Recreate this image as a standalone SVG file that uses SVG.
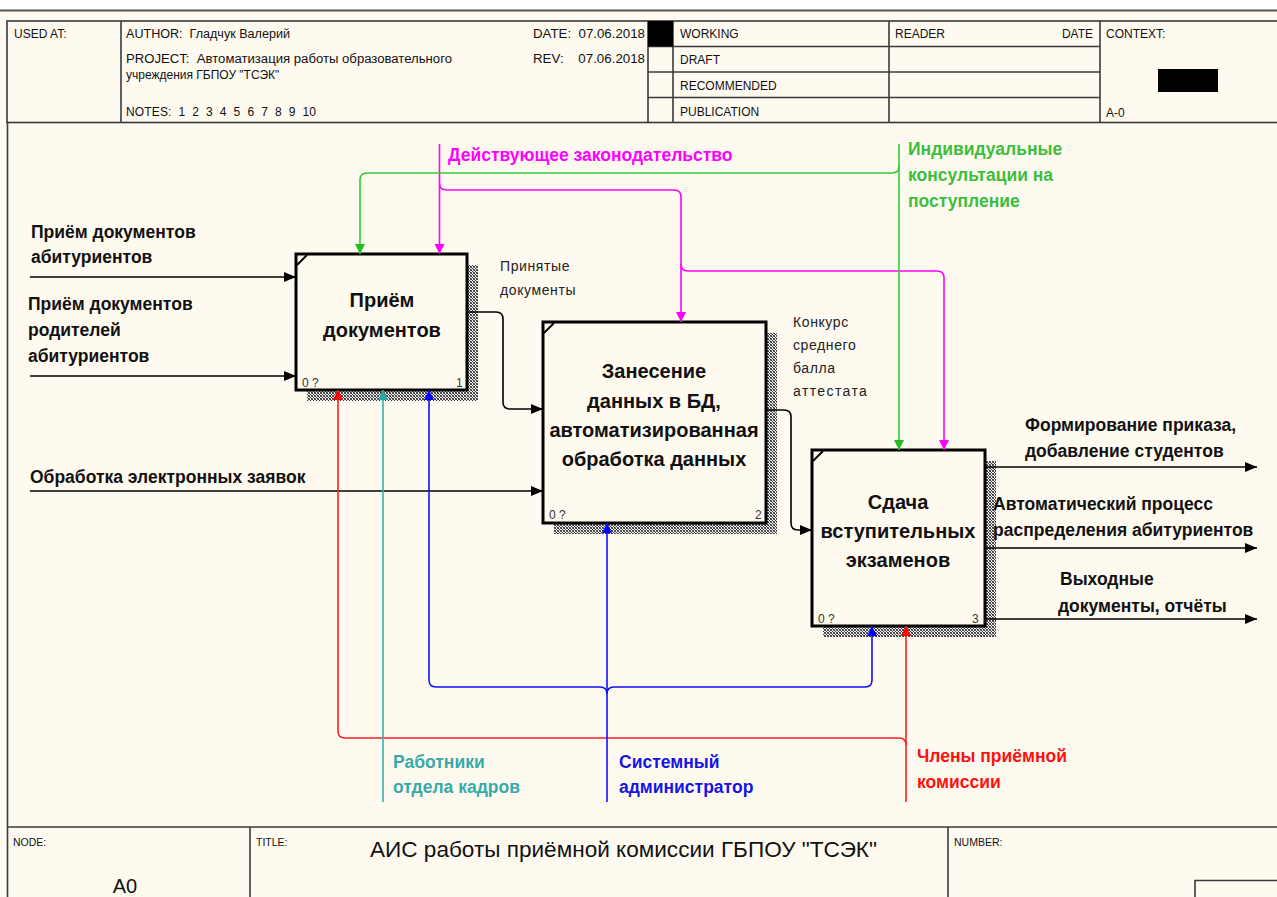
<svg xmlns="http://www.w3.org/2000/svg" width="1277" height="897" viewBox="0 0 1277 897">
  <defs>
    <style>
      .frame { fill: none; stroke: #3a3a3a; stroke-width: 1.6; }
      .hdr { font-family: "Liberation Sans", Arial, sans-serif; font-size: 12px; fill: #111; white-space: pre; }
      .hdr-s { font-family: "Liberation Sans", Arial, sans-serif; font-size: 10.5px; fill: #111; }
      .box { fill: #FFFAF0; stroke: #000; stroke-width: 3; }
      .shadow { fill: url(#hatch); }
      .btitle { font-family: "Liberation Sans", Arial, sans-serif; font-weight: bold; font-size: 20px; fill: #111; text-anchor: middle; }
      .bnum { font-family: "Liberation Sans", Arial, sans-serif; font-size: 12px; fill: #333; }
      .lbl { font-family: "Liberation Sans", Arial, sans-serif; font-weight: bold; font-size: 17.5px; fill: #111; }
      .lbl-r { font-family: "Liberation Sans", Arial, sans-serif; font-size: 14px; fill: #222; letter-spacing: 0.6px; }
      .k { fill: none; stroke: #000; stroke-width: 1.6; }
      .mag { fill: none; stroke: #FF00FF; stroke-width: 1.6; }
      .grn { fill: none; stroke: #33CC33; stroke-width: 1.6; }
      .red { fill: none; stroke: #FF2020; stroke-width: 1.6; }
      .teal { fill: none; stroke: #3AB0B0; stroke-width: 1.6; }
      .blu { fill: none; stroke: #1010FF; stroke-width: 1.6; }
    </style>
    <pattern id="hatch" width="3" height="3" patternUnits="userSpaceOnUse">
      <rect width="3" height="3" fill="#f2f2f2"/>
      <rect x="0" y="0" width="1" height="1" fill="#333"/>
      <rect x="1" y="1" width="1" height="1" fill="#333"/>
      <rect x="2" y="2" width="1" height="1" fill="#333"/>
      <rect x="2" y="0" width="1" height="1" fill="#666"/>
      <rect x="0" y="2" width="1" height="1" fill="#666"/>
    </pattern>
    <marker id="ah-k" viewBox="0 0 12 10" refX="12" refY="5" markerWidth="12" markerHeight="10" orient="auto" markerUnits="userSpaceOnUse">
      <path d="M0,0 L12,5 L0,10 z" fill="#000"/>
    </marker>
    <marker id="ah-mag" viewBox="0 0 10 10" refX="10" refY="5" markerWidth="11" markerHeight="10" orient="auto" markerUnits="userSpaceOnUse">
      <path d="M0,0 L10,5 L0,10 z" fill="#FF00FF"/>
    </marker>
    <marker id="ah-grn" viewBox="0 0 10 10" refX="10" refY="5" markerWidth="11" markerHeight="10" orient="auto" markerUnits="userSpaceOnUse">
      <path d="M0,0 L10,5 L0,10 z" fill="#22BB22"/>
    </marker>
    <marker id="ah-red" viewBox="0 0 10 10" refX="10" refY="5" markerWidth="11" markerHeight="10" orient="auto" markerUnits="userSpaceOnUse">
      <path d="M0,0 L10,5 L0,10 z" fill="#FF0000"/>
    </marker>
    <marker id="ah-teal" viewBox="0 0 10 10" refX="10" refY="5" markerWidth="11" markerHeight="10" orient="auto" markerUnits="userSpaceOnUse">
      <path d="M0,0 L10,5 L0,10 z" fill="#2AA8A8"/>
    </marker>
    <marker id="ah-blu" viewBox="0 0 10 10" refX="10" refY="5" markerWidth="11" markerHeight="10" orient="auto" markerUnits="userSpaceOnUse">
      <path d="M0,0 L10,5 L0,10 z" fill="#0000FF"/>
    </marker>
  </defs>

  <!-- page background -->
  <rect x="0" y="0" width="1277" height="897" fill="#FFFAF0"/>
  <rect x="0" y="0" width="1277" height="10" fill="#FFFFFF"/>
  <line x1="0" y1="10.5" x2="1277" y2="10.5" stroke="#555" stroke-width="2.2"/>

  <!-- header block -->
  <g id="header">
    <rect class="frame" x="7" y="21" width="1275" height="101.5"/>
    <line class="frame" x1="121" y1="21" x2="121" y2="122.5"/>
    <line class="frame" x1="648" y1="21" x2="648" y2="122.5"/>
    <line class="frame" x1="673" y1="21" x2="673" y2="122.5"/>
    <line class="frame" x1="889" y1="21" x2="889" y2="122.5"/>
    <line class="frame" x1="1100" y1="21" x2="1100" y2="122.5"/>
    <line class="frame" x1="648" y1="46.5" x2="1100" y2="46.5"/>
    <line class="frame" x1="648" y1="72" x2="1100" y2="72"/>
    <line class="frame" x1="648" y1="97.5" x2="1100" y2="97.5"/>
    <rect x="648" y="21" width="25" height="25.5" fill="#000"/>
    <text class="hdr" x="14" y="38">USED AT:</text>
    <text class="hdr" x="126" y="38" textLength="164" lengthAdjust="spacingAndGlyphs">AUTHOR:  Гладчук Валерий</text>
    <text class="hdr" x="126" y="63" textLength="326" lengthAdjust="spacingAndGlyphs">PROJECT:  Автоматизация работы образовательного</text>
    <text class="hdr" x="126" y="79">учреждения ГБПОУ "ТСЭК"</text>
    <text class="hdr" x="126" y="116" textLength="190" lengthAdjust="spacing">NOTES:  1  2  3  4  5  6  7  8  9  10</text>
    <text class="hdr" x="533" y="38" textLength="112" lengthAdjust="spacingAndGlyphs">DATE:  07.06.2018</text>
    <text class="hdr" x="533" y="63" textLength="112" lengthAdjust="spacingAndGlyphs">REV:    07.06.2018</text>
    <text class="hdr" x="680" y="38">WORKING</text>
    <text class="hdr" x="680" y="64">DRAFT</text>
    <text class="hdr" x="680" y="90">RECOMMENDED</text>
    <text class="hdr" x="680" y="116">PUBLICATION</text>
    <text class="hdr" x="895" y="38">READER</text>
    <text class="hdr" x="1093" y="38" text-anchor="end">DATE</text>
    <text class="hdr" x="1106" y="38">CONTEXT:</text>
    <rect x="1158" y="69" width="60" height="23" fill="#000"/>
    <text class="hdr" x="1106" y="117">A-0</text>
  </g>

  <!-- drawing area border -->
  <line class="frame" x1="7.5" y1="122" x2="7.5" y2="897"/>

  <!-- footer block -->
  <g id="footer">
    <line class="frame" x1="7" y1="827" x2="1277" y2="827"/>
    <line class="frame" x1="250" y1="827" x2="250" y2="897"/>
    <line class="frame" x1="948" y1="827" x2="948" y2="897"/>
    <polyline class="frame" points="1195,897 1195,880.5 1277,880.5"/>
    <text class="hdr-s" x="13" y="846">NODE:</text>
    <text class="hdr-s" x="256" y="846">TITLE:</text>
    <text class="hdr-s" x="954" y="846">NUMBER:</text>
    <text x="125" y="893" text-anchor="middle" font-family="Liberation Sans, Arial, sans-serif" font-size="20" fill="#111">A0</text>
    <text x="370" y="857" textLength="507" lengthAdjust="spacingAndGlyphs" font-family="Liberation Sans, Arial, sans-serif" font-size="22" fill="#111">АИС работы приёмной комиссии ГБПОУ "ТСЭК"</text>
  </g>

  <!-- activity 1 -->
  <g id="node-1">
    <rect class="shadow" x="307" y="265" width="171" height="136"/>
    <rect class="box" x="296" y="254" width="171" height="136"/>
    <line x1="297" y1="265" x2="307" y2="255" stroke="#000" stroke-width="2"/>
    <text class="btitle" x="382" y="307">Приём</text>
    <text class="btitle" x="382" y="337">документов</text>
    <text class="bnum" x="302" y="387">0 ?</text>
    <text class="bnum" x="456" y="387">1</text>
  </g>

  <!-- activity 2 -->
  <g id="node-2">
    <rect class="shadow" x="554" y="333" width="223" height="201"/>
    <rect class="box" x="543" y="322" width="223" height="201"/>
    <line x1="544" y1="333" x2="554" y2="323" stroke="#000" stroke-width="2"/>
    <text class="btitle" x="654" y="378">Занесение</text>
    <text class="btitle" x="654" y="408">данных в БД,</text>
    <text class="btitle" x="654" y="437">автоматизированная</text>
    <text class="btitle" x="654" y="466">обработка данных</text>
    <text class="bnum" x="549" y="519">0 ?</text>
    <text class="bnum" x="755" y="519">2</text>
  </g>

  <!-- activity 3 -->
  <g id="node-3">
    <rect class="shadow" x="823" y="461" width="173" height="176"/>
    <rect class="box" x="812" y="450" width="173" height="176"/>
    <line x1="813" y1="461" x2="823" y2="451" stroke="#000" stroke-width="2"/>
    <text class="btitle" x="898" y="509">Сдача</text>
    <text class="btitle" x="898" y="538">вступительных</text>
    <text class="btitle" x="898" y="567">экзаменов</text>
    <text class="bnum" x="818" y="623">0 ?</text>
    <text class="bnum" x="972" y="623">3</text>
  </g>

  <!-- connectors -->
  <g id="connectors">
    <!-- inputs -->
    <line class="k" x1="30" y1="277" x2="296" y2="277" marker-end="url(#ah-k)"/>
    <line class="k" x1="30" y1="376" x2="296" y2="376" marker-end="url(#ah-k)"/>
    <line class="k" x1="30" y1="491" x2="543" y2="491" marker-end="url(#ah-k)"/>
    <!-- box 1 -> box 2 -->
    <path class="k" d="M467,312 L496,312 Q503,312 503,319 L503,402 Q503,409 510,409 L543,409" marker-end="url(#ah-k)"/>
    <!-- box 2 -> box 3 -->
    <path class="k" d="M766,410 L784,410 Q791,410 791,417 L791,523 Q791,530 798,530 L812,530" marker-end="url(#ah-k)"/>
    <!-- outputs of box 3 -->
    <line class="k" x1="985" y1="467" x2="1257" y2="467" marker-end="url(#ah-k)"/>
    <line class="k" x1="985" y1="548" x2="1257" y2="548" marker-end="url(#ah-k)"/>
    <line class="k" x1="985" y1="619" x2="1257" y2="619" marker-end="url(#ah-k)"/>

    <!-- control: legislation -->
    <line class="mag" x1="439.5" y1="144" x2="439.5" y2="254" marker-end="url(#ah-mag)"/>
    <path class="mag" d="M439.5,183 Q439.5,190 446.5,190 L674,190 Q681,190 681,197 L681,322" marker-end="url(#ah-mag)"/>
    <path class="mag" d="M681,264 Q681,271 688,271 L937,271 Q944,271 944,278 L944,450" marker-end="url(#ah-mag)"/>

    <!-- control: consultations -->
    <line class="grn" x1="899" y1="144" x2="899" y2="450" marker-end="url(#ah-grn)"/>
    <path class="grn" d="M899,166 Q899,173 892,173 L367,173 Q360,173 360,180 L360,254" marker-end="url(#ah-grn)"/>

    <!-- mechanism: admission committee -->
    <line class="red" x1="906" y1="802" x2="906" y2="626" marker-end="url(#ah-red)"/>
    <path class="red" d="M906,745 Q906,738 899,738 L345,738 Q338,738 338,731 L338,390" marker-end="url(#ah-red)"/>

    <!-- mechanism: HR staff -->
    <line class="teal" x1="383" y1="802" x2="383" y2="390" marker-end="url(#ah-teal)"/>

    <!-- mechanism: system administrator -->
    <line class="blu" x1="607" y1="802" x2="607" y2="523" marker-end="url(#ah-blu)"/>
    <path class="blu" d="M607,694 Q607,687 600,687 L436,687 Q429,687 429,680 L429,390" marker-end="url(#ah-blu)"/>
    <path class="blu" d="M607,694 Q607,687 614,687 L865,687 Q872,687 872,680 L872,626" marker-end="url(#ah-blu)"/>
  </g>

  <!-- connector labels -->
  <g id="labels">
    <text class="lbl" x="31" y="238">Приём документов</text>
    <text class="lbl" x="31" y="263">абитуриентов</text>
    <text class="lbl" x="28" y="310">Приём документов</text>
    <text class="lbl" x="28" y="336">родителей</text>
    <text class="lbl" x="28" y="362">абитуриентов</text>
    <text class="lbl" x="30" y="483">Обработка электронных заявок</text>

    <text class="lbl-r" x="500" y="271">Принятые</text>
    <text class="lbl-r" x="500" y="295">документы</text>
    <text class="lbl-r" x="793" y="327">Конкурс</text>
    <text class="lbl-r" x="793" y="350">среднего</text>
    <text class="lbl-r" x="793" y="373">балла</text>
    <text class="lbl-r" x="793" y="396" style="letter-spacing:1.4px">аттестата</text>

    <text class="lbl" x="1025" y="431">Формирование приказа,</text>
    <text class="lbl" x="1025" y="457">добавление студентов</text>
    <text class="lbl" x="993" y="510">Автоматический процесс</text>
    <text class="lbl" x="993" y="536">распределения абитуриентов</text>
    <text class="lbl" x="1060" y="585">Выходные</text>
    <text class="lbl" x="1058" y="612">документы, отчёты</text>

    <text class="lbl" x="448" y="161" style="fill:#FF00FF">Действующее законодательство</text>
    <text class="lbl" x="908" y="155" style="fill:#3CBE3C">Индивидуальные</text>
    <text class="lbl" x="908" y="181" style="fill:#3CBE3C">консультации на</text>
    <text class="lbl" x="908" y="207" style="fill:#3CBE3C">поступление</text>

    <text class="lbl" x="393" y="768" style="fill:#36AAAA">Работники</text>
    <text class="lbl" x="393" y="793" style="fill:#36AAAA">отдела кадров</text>
    <text class="lbl" x="619" y="768" style="fill:#1414E6">Системный</text>
    <text class="lbl" x="619" y="793" style="fill:#1414E6">администратор</text>
    <text class="lbl" x="917" y="762" style="fill:#FF1010">Члены приёмной</text>
    <text class="lbl" x="917" y="788" style="fill:#FF1010">комиссии</text>
  </g>
</svg>
